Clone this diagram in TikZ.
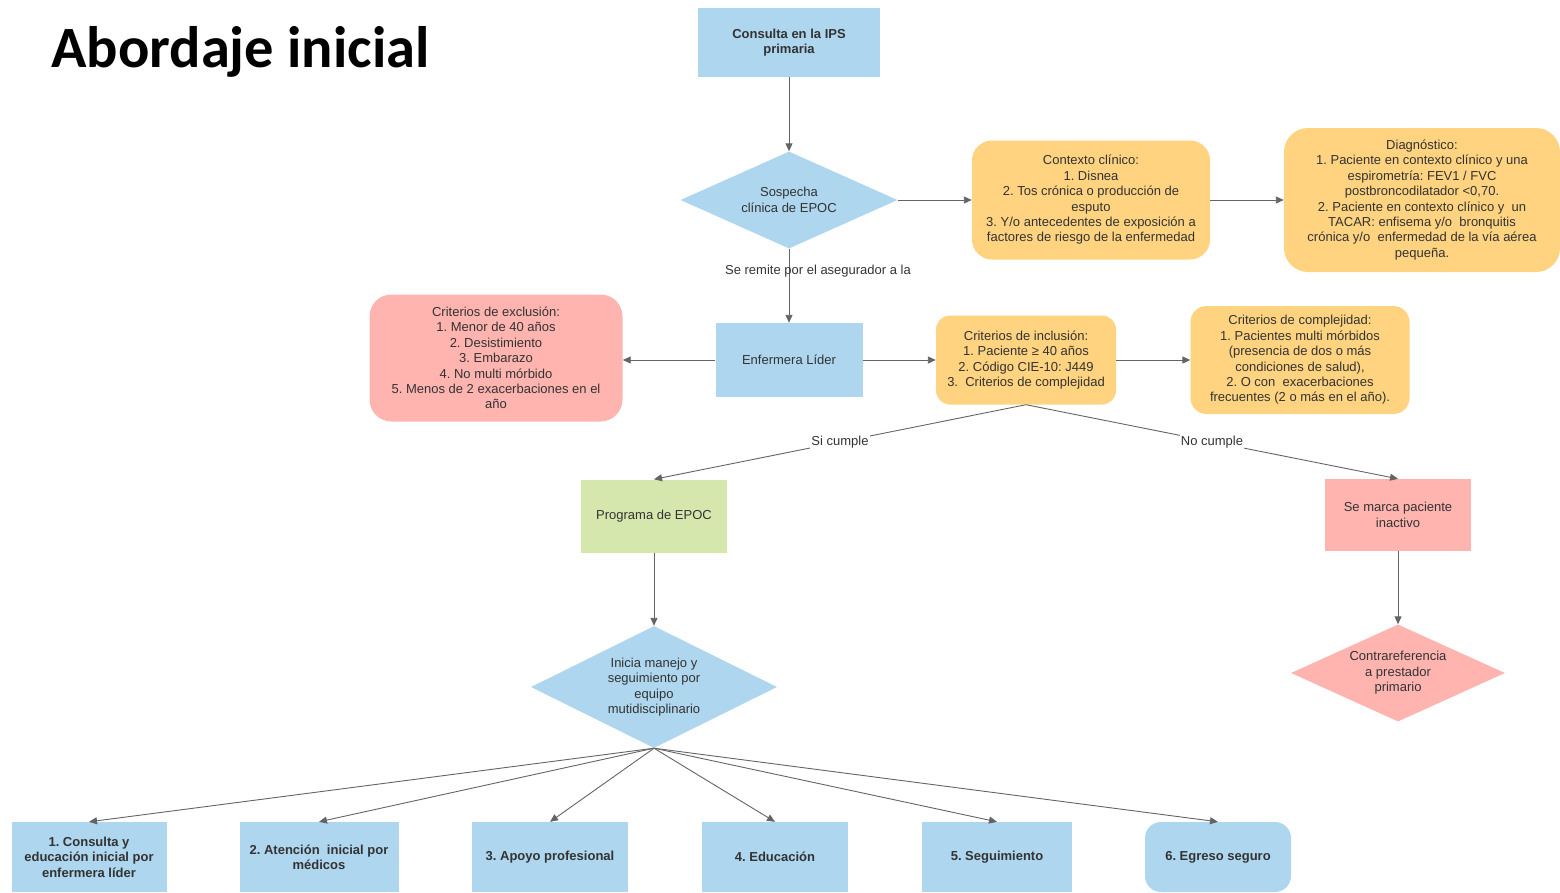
\documentclass[tikz,border=0pt]{standalone}
\usepackage{fontspec}
\setmainfont{Liberation Sans}
\newfontfamily\titlefont{Carlito}
\usetikzlibrary{shapes.geometric,arrows.meta}
\frenchspacing
\definecolor{cajaazul}{RGB}{174,214,238}
\definecolor{cajaamarilla}{RGB}{255,211,127}
\definecolor{cajarosa}{RGB}{255,180,176}
\definecolor{cajaverde}{RGB}{214,231,174}
\definecolor{linea}{RGB}{100,100,100}
\definecolor{texto}{RGB}{51,51,51}
\tikzset{
  caja/.style={rectangle, inner sep=0pt, text=texto, align=center, font=\fontsize{13}{15.4}\selectfont},
  cajanegrita/.style={caja, font=\fontsize{13}{15.4}\selectfont\bfseries},
  rombo/.style={diamond, inner sep=0pt},
  textorombo/.style={text=texto, align=center, font=\fontsize{13}{15.4}\selectfont},
  flecha/.style={draw=linea, line width=0.9pt, -{Triangle[length=8pt,width=7pt]}},
  rotulo/.style={text=texto, font=\fontsize{13}{15.4}\selectfont, inner sep=1pt},
}

\begin{document}
\begin{tikzpicture}[x=1pt, y=-1pt]
		%%%%% START %%%%%
		\useasboundingbox (0, 0) rectangle (1560, 892);
		
		\node[anchor=base west, inner sep=0pt, font=\titlefont\fontsize{58.5}{60}\selectfont\bfseries] (titulo) at (51, 67) {Abordaje inicial};
		
		% flujo superior
		\node[cajanegrita, fill=cajaazul, minimum width=182pt, minimum height=69pt, text depth=2pt] (consulta) at (789, 42) {Consulta en la IPS\\primaria};
		\node[rombo, fill=cajaazul, minimum width=217pt, minimum height=97pt] (sospecha) at (789, 200) {};
		\node[textorombo] at (sospecha) {Sospecha\\clínica de EPOC};
		\node[caja, fill=cajaamarilla, rounded corners=20pt, minimum width=238pt, minimum height=119pt] (contexto) at (1091, 200) {Contexto clínico:\\1. Disnea\\2. Tos crónica o producción de\\esputo\\3. Y/o antecedentes de exposición a\\factores de riesgo de la enfermedad};
		\node[caja, fill=cajaamarilla, rounded corners=24pt, minimum width=276pt, minimum height=144pt] (diagnostico) at (1422, 200) {Diagnóstico:\\1. Paciente en contexto clínico y una\\espirometría: FEV1 / FVC\\postbroncodilatador <0,70.\\2. Paciente en contexto clínico y\ \ un\\TACAR: enfisema y/o\ \ bronquitis\\crónica y/o\ \ enfermedad de la vía aérea\\pequeña.};
		
		% enfermera lider y criterios
		\node[caja, fill=cajaazul, minimum width=147pt, minimum height=74pt] (enfermera) at (789, 360) {Enfermera Líder};
		\node[caja, fill=cajarosa, rounded corners=22pt, minimum width=253pt, minimum height=127pt] (exclusion) at (496, 358) {Criterios de exclusión:\\1. Menor de 40 años\\2. Desistimiento\\3. Embarazo\\4. No multi mórbido\\5. Menos de 2 exacerbaciones en el\\año};
		\node[caja, fill=cajaamarilla, rounded corners=14pt, minimum width=180pt, minimum height=89pt] (inclusion) at (1026, 360) {Criterios de inclusión:\\1. Paciente ≥ 40 años\\2. Código CIE-10: J449\\3.\ \ Criterios de complejidad};
		\node[caja, fill=cajaamarilla, rounded corners=16pt, minimum width=219pt, minimum height=108pt] (complejidad) at (1300, 360) {Criterios de complejidad:\\1. Pacientes multi mórbidos\\(presencia de dos o más\\condiciones de salud),\\2. O con\ \ exacerbaciones\\frecuentes (2 o más en el año).};
		
		% ramas
		\node[caja, fill=cajaverde, minimum width=146pt, minimum height=73pt] (programa) at (654, 516) {Programa de EPOC};
		\node[caja, fill=cajarosa, minimum width=146pt, minimum height=72pt] (inactivo) at (1398, 515) {Se marca paciente\\inactivo};
		\node[rombo, fill=cajaazul, minimum width=246pt, minimum height=122pt] (inicia) at (654, 687) {};
		\node[textorombo] at (inicia) {Inicia manejo y\\seguimiento por\\equipo\\mutidisciplinario};
		\node[rombo, fill=cajarosa, minimum width=214pt, minimum height=97pt] (contrarref) at (1398, 673) {};
		\node[textorombo] at (contrarref) {Contrareferencia\\a prestador\\primario};
		
		% componentes del programa
		\node[cajanegrita, fill=cajaazul, minimum width=155pt, minimum height=70pt] (paso1) at (89, 857) {1. Consulta y\\educación inicial por\\enfermera líder};
		\node[cajanegrita, fill=cajaazul, minimum width=159pt, minimum height=70pt] (paso2) at (319, 857) {2. Atención\ \ inicial por\\médicos};
		\node[cajanegrita, fill=cajaazul, minimum width=156pt, minimum height=70pt] (paso3) at (550, 857) {3. Apoyo profesional};
		\node[cajanegrita, fill=cajaazul, minimum width=146pt, minimum height=70pt] (paso4) at (775, 857) {4. Educación};
		\node[cajanegrita, fill=cajaazul, minimum width=150pt, minimum height=70pt] (paso5) at (997, 857) {5. Seguimiento};
		\node[cajanegrita, fill=cajaazul, rounded corners=16pt, minimum width=146pt, minimum height=70pt] (paso6) at (1218, 857) {6. Egreso seguro};
		
		% conectores
		\draw[flecha] (consulta) -- (sospecha);
		\draw[flecha] (sospecha.east) -- (contexto);
		\draw[flecha] (contexto) -- (diagnostico);
		\draw[flecha] (sospecha.south) -- node[rotulo, pos=0.3, xshift=29pt] {Se remite por el asegurador a la} (enfermera);
		\draw[flecha] (enfermera.west) -- (enfermera.west -| exclusion.east);
		\draw[flecha] (enfermera) -- (inclusion);
		\draw[flecha] (inclusion) -- (complejidad);
		\draw[flecha] (inclusion.south) -- node[rotulo, fill=white] {Si cumple} (programa.north);
		\draw[flecha] (inclusion.south) -- node[rotulo, fill=white] {No cumple} (inactivo.north);
		\draw[flecha] (programa) -- (inicia.north);
		\draw[flecha] (inactivo) -- (contrarref.north);
		\foreach \p in {paso1,paso2,paso3,paso4,paso5,paso6}
			\draw[flecha] (inicia.south) -- (\p.north);
		
		%%%%% END %%%%%
\end{tikzpicture}
\end{document}
